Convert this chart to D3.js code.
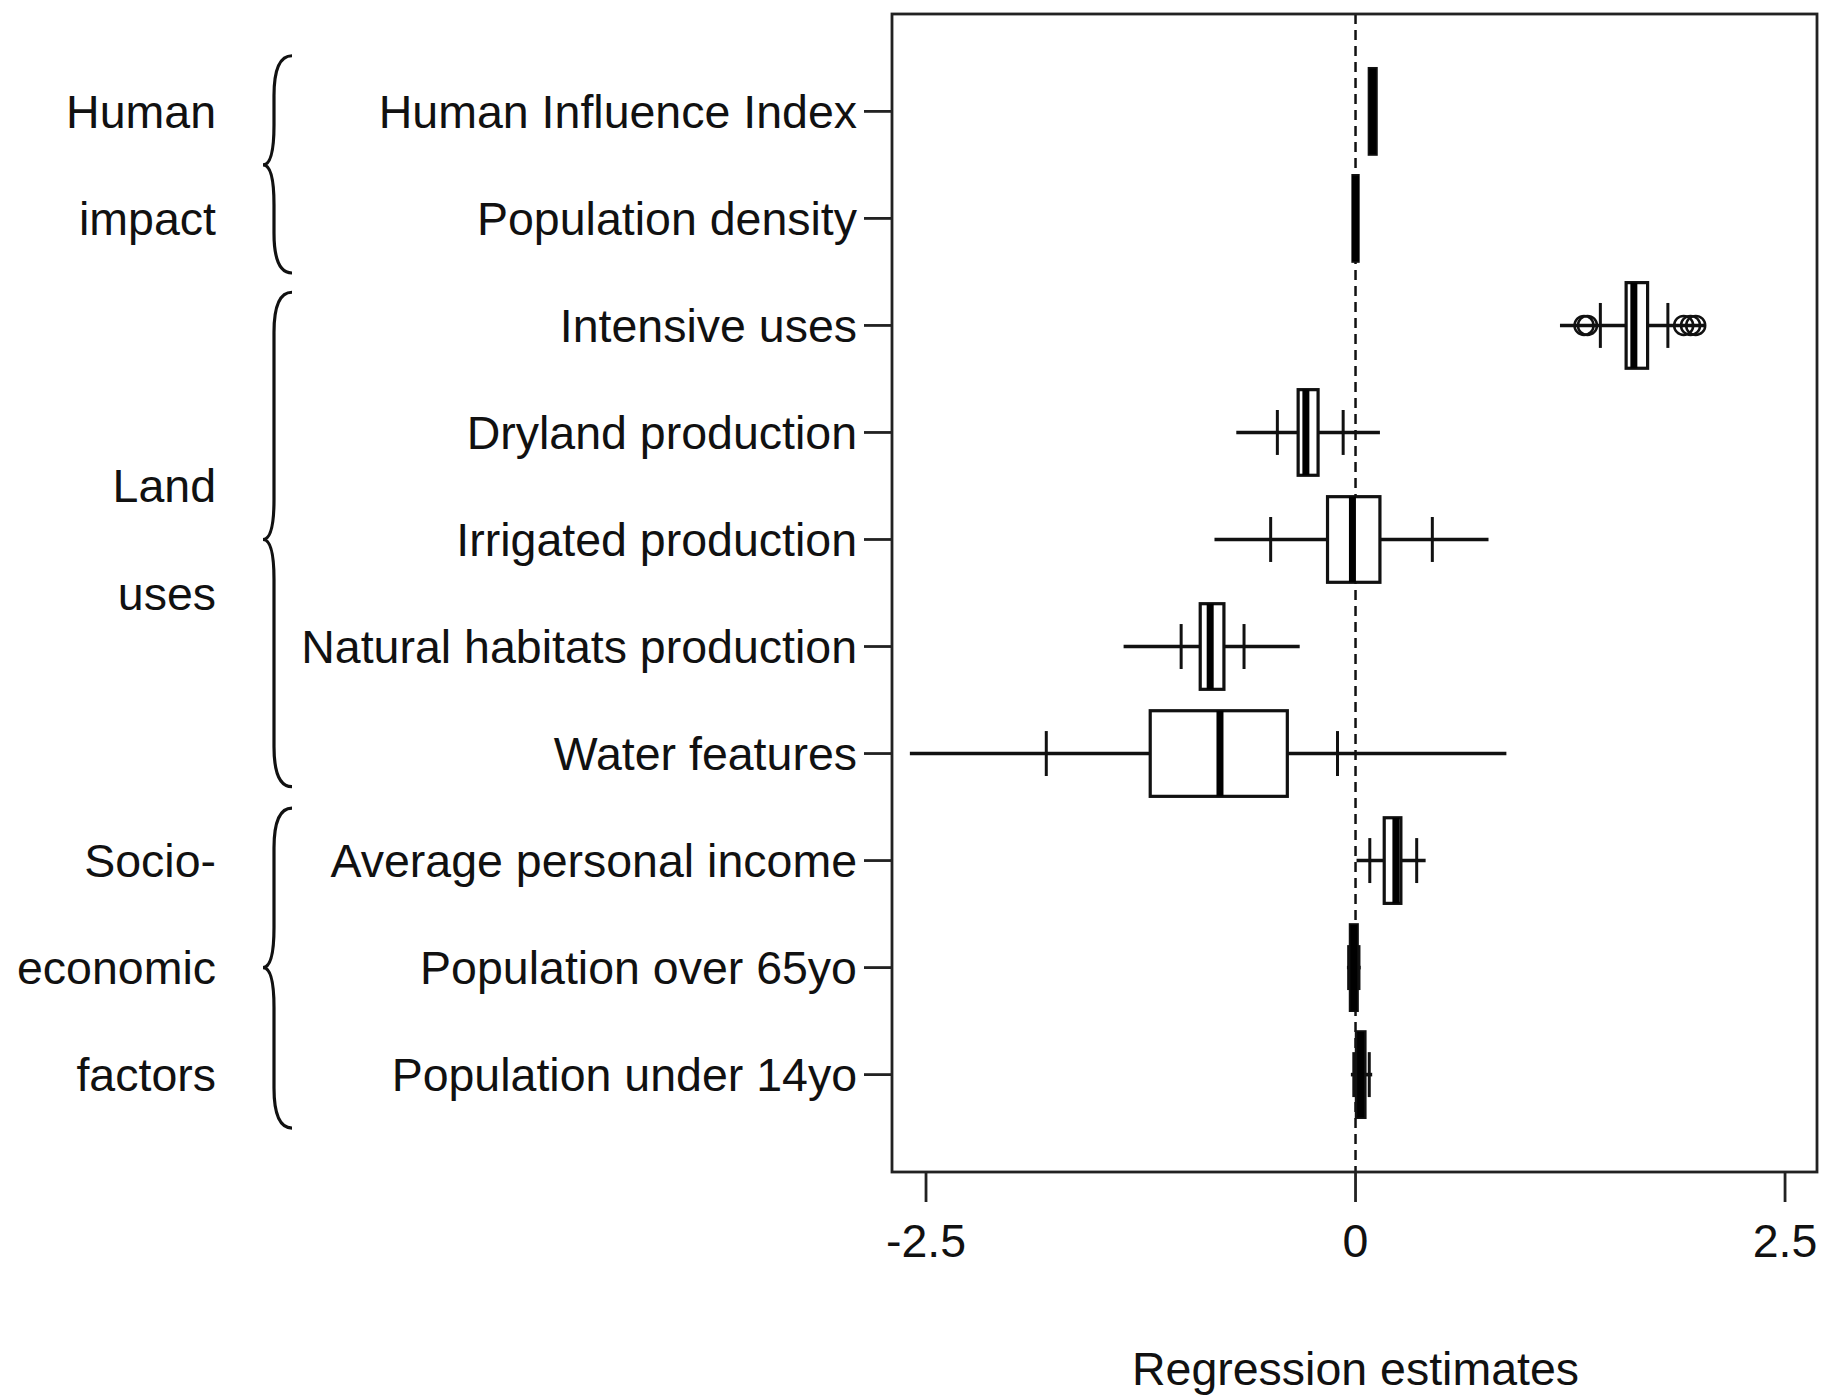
<!DOCTYPE html>
<html>
<head>
<meta charset="utf-8">
<script src="https://cdn.jsdelivr.net/npm/d3@7"></script>
<style>
  body { margin: 0; background: #fff; }
  svg { display: block; font-family: "Liberation Sans", Arial, Helvetica, sans-serif; }
</style>
</head>
<body>
<div id="chart"></div>
<script>
const labels = [
  'Human Influence Index', 'Population density', 'Intensive uses', 'Dryland production',
  'Irrigated production', 'Natural habitats production', 'Water features',
  'Average personal income', 'Population over 65yo', 'Population under 14yo'
];

// whisker ends, inner marks, box and median per row
const whiskerLo = [0.08, -0.015, 1.19, -0.694, -0.821, -1.35, -2.594, 0.006, -0.05, -0.027];
const markLo    = [0.085, -0.01, 1.425, -0.455, -0.494, -1.015, -1.80, 0.083, -0.04, -0.01];
const boxLo     = [0.08, -0.015, 1.575, -0.334, -0.163, -0.904, -1.195, 0.167, -0.03, 0.005];
const medians   = [0.10, 0.0, 1.62, -0.289, -0.018, -0.846, -0.789, 0.235, -0.01, 0.03];
const boxHi     = [0.12, 0.015, 1.70, -0.218, 0.142, -0.766, -0.397, 0.264, 0.01, 0.055];
const markHi    = [0.115, 0.01, 1.818, -0.072, 0.447, -0.649, -0.105, 0.356, 0.02, 0.08];
const whiskerHi = [0.12, 0.015, 2.04, 0.142, 0.774, -0.325, 0.878, 0.408, 0.03, 0.097];

const outlierRow = [2, 2, 2, 2, 2];
const outlierVal = [1.33, 1.35, 1.91, 1.95, 1.98];

const xTicks = [-2.5, 0, 2.5];
const xTickLabels = ['-2.5', '0', '2.5'];

const groupLines = [['Human', 'impact'], ['Land', 'uses'], ['Socio-', 'economic', 'factors']];
const groupLineRows = [[0, 1], [3.5, 4.5], [7, 8, 9]];
const groupFrom = [-0.52, 1.69, 6.51];
const groupTo = [1.51, 6.31, 9.5];
const groupMid = [0.5, 4.0, 8.0];

const width = 1821, height = 1398;
const fontSize = 46.5;

const svg = d3.select('#chart').append('svg')
  .attr('width', width)
  .attr('height', height);

svg.append('rect').attr('width', width).attr('height', height).attr('fill', '#fff');

const plot = { left: 892, right: 1817, top: 14, bottom: 1172 };

const xScale = d3.scaleLinear()
  .domain([-2.698, 2.686])
  .range([plot.left, plot.right]);

const yScale = d3.scaleLinear()
  .domain([-0.91, 9.91])
  .range([plot.top, plot.bottom]);

const boxHalf = yScale(0.4) - yScale(0);
const markHalf = yScale(0.21) - yScale(0);

// zero reference line
svg.append('line')
  .attr('x1', xScale(0)).attr('x2', xScale(0))
  .attr('y1', plot.top).attr('y2', plot.bottom)
  .attr('stroke', '#111')
  .attr('stroke-width', 2.5)
  .attr('stroke-dasharray', '10,6');

const rows = svg.append('g').selectAll('g')
  .data(labels.map((d, i) => i))
  .join('g');

rows.append('line')
  .attr('x1', i => xScale(whiskerLo[i]))
  .attr('x2', i => xScale(whiskerHi[i]))
  .attr('y1', i => yScale(i)).attr('y2', i => yScale(i))
  .attr('stroke', '#111')
  .attr('stroke-width', 3.6);

rows.selectAll('.mark')
  .data(i => [[i, markLo[i]], [i, markHi[i]]])
  .join('line')
  .attr('class', 'mark')
  .attr('x1', d => xScale(d[1])).attr('x2', d => xScale(d[1]))
  .attr('y1', d => yScale(d[0]) - markHalf)
  .attr('y2', d => yScale(d[0]) + markHalf)
  .attr('stroke', '#111')
  .attr('stroke-width', 3);

rows.append('rect')
  .attr('x', i => xScale(boxLo[i]))
  .attr('width', i => xScale(boxHi[i]) - xScale(boxLo[i]))
  .attr('y', i => yScale(i) - boxHalf)
  .attr('height', boxHalf * 2)
  .attr('fill', '#fff')
  .attr('stroke', '#111')
  .attr('stroke-width', 3.2);

rows.append('line')
  .attr('x1', i => xScale(medians[i])).attr('x2', i => xScale(medians[i]))
  .attr('y1', i => yScale(i) - boxHalf)
  .attr('y2', i => yScale(i) + boxHalf)
  .attr('stroke', '#000')
  .attr('stroke-width', 7);

svg.append('g').selectAll('circle')
  .data(outlierVal.map((v, i) => [outlierRow[i], v]))
  .join('circle')
  .attr('cx', d => xScale(d[1]))
  .attr('cy', d => yScale(d[0]))
  .attr('r', 9.5)
  .attr('fill', 'none')
  .attr('stroke', '#111')
  .attr('stroke-width', 2.5);

// frame
svg.append('rect')
  .attr('x', plot.left).attr('y', plot.top)
  .attr('width', plot.right - plot.left)
  .attr('height', plot.bottom - plot.top)
  .attr('fill', 'none')
  .attr('stroke', '#222')
  .attr('stroke-width', 2.8);

// y axis
const yAxis = svg.append('g');
yAxis.selectAll('line')
  .data(labels.map((d, i) => i))
  .join('line')
  .attr('x1', plot.left - 28).attr('x2', plot.left)
  .attr('y1', i => yScale(i)).attr('y2', i => yScale(i))
  .attr('stroke', '#222')
  .attr('stroke-width', 2.8);

yAxis.selectAll('text')
  .data(labels)
  .join('text')
  .attr('x', plot.left - 35)
  .attr('y', (d, i) => yScale(i) + 16.5)
  .attr('text-anchor', 'end')
  .attr('font-size', fontSize)
  .attr('fill', '#111')
  .text(d => d);

// x axis
const xAxis = svg.append('g');
xAxis.selectAll('line')
  .data(xTicks)
  .join('line')
  .attr('x1', d => xScale(d)).attr('x2', d => xScale(d))
  .attr('y1', plot.bottom).attr('y2', plot.bottom + 30)
  .attr('stroke', '#222')
  .attr('stroke-width', 2.8);

xAxis.selectAll('text')
  .data(xTicks)
  .join('text')
  .attr('x', d => xScale(d))
  .attr('y', 1257)
  .attr('text-anchor', 'middle')
  .attr('font-size', fontSize)
  .attr('fill', '#111')
  .text((d, i) => xTickLabels[i]);

svg.append('text')
  .attr('x', xScale(0))
  .attr('y', 1385)
  .attr('text-anchor', 'middle')
  .attr('font-size', fontSize)
  .attr('fill', '#111')
  .text('Regression estimates');

// groups with braces
const tipX = 292, bodyX = 274, pointX = 263, curl = 40;

function bracePath(y1, ym, y2) {
  return `M${tipX},${y1} Q${bodyX},${y1} ${bodyX},${y1 + curl}` +
    ` L${bodyX},${ym - curl} Q${bodyX},${ym} ${pointX},${ym}` +
    ` Q${bodyX},${ym} ${bodyX},${ym + curl}` +
    ` L${bodyX},${y2 - curl} Q${bodyX},${y2} ${tipX},${y2}`;
}

const groups = svg.append('g');
groups.selectAll('path')
  .data(groupLines.map((d, i) => i))
  .join('path')
  .attr('d', i => bracePath(yScale(groupFrom[i]), yScale(groupMid[i]), yScale(groupTo[i])))
  .attr('fill', 'none')
  .attr('stroke', '#111')
  .attr('stroke-width', 3.2);

groupLines.forEach((lines, g) => {
  lines.forEach((t, k) => {
    groups.append('text')
      .attr('x', 216)
      .attr('y', yScale(groupLineRows[g][k]) + 16.5)
      .attr('text-anchor', 'end')
      .attr('font-size', fontSize)
      .attr('fill', '#111')
      .text(t);
  });
});
</script>
</body>
</html>
